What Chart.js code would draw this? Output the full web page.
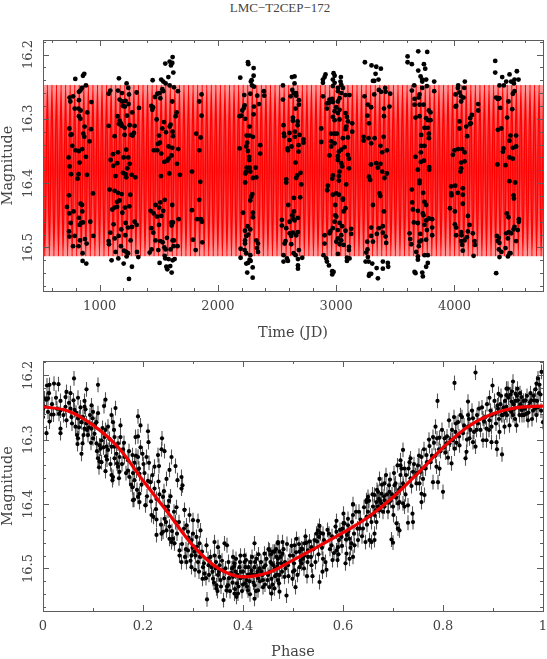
<!DOCTYPE html>
<html>
<head>
<meta charset="utf-8">
<title>LMC-T2CEP-172</title>
<script src="https://cdn.jsdelivr.net/npm/chart.js@4/dist/chart.umd.min.js"></script>
<style>
  html, body { margin: 0; padding: 0; background: #fff; }
  body { position: relative; width: 547px; height: 659px; overflow: hidden; }
  canvas { position: absolute; left: 0; display: block; }
  #title { position: absolute; left: 130px; width: 300px; top: 0; text-align: center; font: 13px "Liberation Serif", serif; color: #444; }
</style>
</head>
<body>
<div id="title">LMC−T2CEP−172</div>
<canvas id="timeChart" width="547" height="340" style="top:0"></canvas>
<canvas id="phaseChart" width="547" height="319" style="top:340px"></canvas>
<script>
// observaciones por temporada: [JD, magnitud]
const season1 = [[794,16.238],[859,16.233],[870,16.230],[884,16.248],[851,16.252],[837,16.256],[825,16.258],[775,16.265],[746,16.267],[752,16.273],[930,16.274],[825,16.271],[789,16.284],[822,16.284],[839,16.287],[896,16.290],[825,16.296],[837,16.300],[744,16.315],[755,16.325],[763,16.324],[873,16.312],[927,16.316],[862,16.323],[870,16.328],[915,16.335],[769,16.342],[797,16.349],[825,16.350],[853,16.347],[738,16.360],[884,16.359],[831,16.368],[746,16.374],[758,16.386],[822,16.386],[814,16.393],[893,16.387],[741,16.419],[944,16.416],[724,16.437],[839,16.432],[851,16.434],[853,16.444],[780,16.444],[744,16.447],[825,16.454],[755,16.462],[859,16.461],[842,16.462],[831,16.465],[921,16.460],[741,16.475],[744,16.483],[789,16.482],[946,16.482],[834,16.489],[876,16.487],[890,16.494],[775,16.498],[822,16.498],[856,16.509],[856,16.521],[887,16.525]];
const season2 = [[1163,16.237],[1076,16.261],[1090,16.256],[1155,16.256],[1228,16.245],[1242,16.252],[1189,16.260],[1248,16.262],[1313,16.259],[1169,16.270],[1192,16.273],[1220,16.272],[1245,16.277],[1197,16.280],[1214,16.281],[1333,16.283],[1276,16.290],[1152,16.296],[1231,16.295],[1076,16.311],[1169,16.303],[1163,16.308],[1180,16.307],[1189,16.311],[1211,16.314],[1254,16.310],[1296,16.311],[1127,16.327],[1211,16.325],[1265,16.325],[1279,16.326],[1290,16.322],[1225,16.348],[1113,16.355],[1093,16.364],[1155,16.352],[1203,16.360],[1242,16.360],[1254,16.370],[1116,16.373],[1149,16.369],[1234,16.377],[1135,16.389],[1197,16.384],[1220,16.386],[1225,16.391],[1271,16.387],[1302,16.391],[1085,16.410],[1127,16.412],[1155,16.415],[1186,16.417],[1259,16.418],[1169,16.427],[1147,16.429],[1127,16.438],[1107,16.441],[1147,16.437],[1214,16.438],[1251,16.436],[1192,16.446],[1118,16.464],[1220,16.462],[1296,16.460],[1313,16.465],[1240,16.469],[1273,16.468],[1183,16.472],[1090,16.477],[1161,16.482],[1127,16.486],[1217,16.481],[1262,16.489],[1076,16.490],[1079,16.495],[1180,16.498],[1135,16.507],[1206,16.505],[1225,16.507],[1240,16.509],[1316,16.507],[1228,16.514],[1158,16.517],[1327,16.515],[1101,16.520],[1203,16.525],[1273,16.530],[1248,16.549]];
const season3 = [[1448,16.240],[1617,16.204],[1555,16.214],[1592,16.211],[1614,16.213],[1603,16.217],[1623,16.228],[1581,16.235],[1521,16.239],[1538,16.242],[1558,16.245],[1592,16.248],[1628,16.251],[1530,16.254],[1538,16.257],[1662,16.257],[1488,16.261],[1507,16.260],[1468,16.266],[1513,16.268],[1614,16.273],[1437,16.280],[1451,16.282],[1445,16.286],[1651,16.290],[1643,16.296],[1482,16.301],[1600,16.309],[1592,16.312],[1544,16.305],[1530,16.315],[1617,16.320],[1502,16.326],[1620,16.327],[1561,16.321],[1510,16.337],[1493,16.339],[1583,16.343],[1614,16.345],[1665,16.347],[1459,16.349],[1488,16.349],[1521,16.354],[1609,16.357],[1583,16.362],[1572,16.365],[1547,16.367],[1654,16.370],[1519,16.389],[1589,16.385],[1679,16.387],[1473,16.434],[1513,16.430],[1550,16.426],[1504,16.438],[1614,16.434],[1431,16.443],[1457,16.447],[1538,16.443],[1485,16.452],[1521,16.451],[1502,16.465],[1668,16.456],[1606,16.461],[1620,16.461],[1609,16.466],[1437,16.470],[1454,16.477],[1473,16.489],[1569,16.485],[1513,16.490],[1533,16.492],[1628,16.489],[1617,16.489],[1547,16.500],[1558,16.503],[1600,16.503],[1626,16.498],[1659,16.498],[1440,16.503],[1423,16.508],[1496,16.504],[1550,16.513],[1555,16.517],[1583,16.518],[1617,16.520],[1634,16.518],[1507,16.524],[1564,16.530],[1572,16.534],[1597,16.529],[1609,16.539]];
const season3b = [[1862,16.262],[1843,16.273],[1862,16.295],[1817,16.323],[1854,16.329],[1843,16.349],[1781,16.382],[1851,16.398],[1843,16.426],[1781,16.442],[1823,16.456],[1857,16.456],[1865,16.460],[1789,16.488],[1868,16.492],[1812,16.504]];
const season4 = [[2189,16.236],[2254,16.212],[2257,16.215],[2302,16.221],[2302,16.233],[2285,16.240],[2279,16.242],[2288,16.248],[2305,16.250],[2274,16.261],[2223,16.263],[2333,16.264],[2389,16.257],[2392,16.264],[2347,16.277],[2305,16.281],[2226,16.279],[2220,16.283],[2206,16.287],[2302,16.293],[2184,16.296],[2198,16.295],[2231,16.300],[2268,16.312],[2243,16.326],[2268,16.326],[2296,16.328],[2248,16.337],[2240,16.343],[2184,16.346],[2358,16.341],[2358,16.354],[2254,16.350],[2265,16.359],[2265,16.364],[2243,16.376],[2268,16.376],[2319,16.376],[2240,16.382],[2274,16.382],[2234,16.385],[2296,16.392],[2325,16.391],[2231,16.399],[2291,16.417],[2282,16.421],[2274,16.427],[2212,16.446],[2296,16.446],[2296,16.453],[2251,16.467],[2229,16.474],[2274,16.472],[2257,16.480],[2240,16.482],[2229,16.489],[2229,16.494],[2325,16.489],[2339,16.494],[2330,16.501],[2339,16.507],[2192,16.502],[2226,16.504],[2240,16.509],[2274,16.512],[2192,16.516],[2268,16.519],[2254,16.524],[2277,16.521],[2240,16.525],[2294,16.531],[2248,16.539],[2294,16.547]];
const season5 = [[2550,16.248],[2626,16.235],[2648,16.234],[2648,16.245],[2629,16.255],[2640,16.260],[2660,16.260],[2615,16.265],[2662,16.264],[2550,16.270],[2685,16.271],[2685,16.278],[2657,16.284],[2634,16.298],[2634,16.303],[2674,16.304],[2555,16.310],[2674,16.310],[2651,16.320],[2558,16.323],[2561,16.327],[2606,16.322],[2651,16.328],[2691,16.325],[2606,16.333],[2724,16.332],[2724,16.337],[2682,16.341],[2623,16.343],[2589,16.346],[2592,16.349],[2682,16.351],[2657,16.368],[2699,16.384],[2671,16.388],[2662,16.392],[2578,16.394],[2578,16.399],[2705,16.402],[2643,16.423],[2696,16.422],[2595,16.434],[2643,16.444],[2629,16.450],[2634,16.455],[2677,16.454],[2606,16.460],[2648,16.458],[2541,16.457],[2541,16.466],[2578,16.470],[2606,16.478],[2634,16.477],[2677,16.476],[2620,16.482],[2662,16.481],[2572,16.490],[2564,16.494],[2620,16.495],[2685,16.504],[2555,16.512],[2640,16.509],[2657,16.512],[2584,16.517],[2713,16.516],[2677,16.518],[2555,16.522],[2592,16.521],[2677,16.528],[2677,16.533]];
const season6 = [[2910,16.231],[2902,16.235],[2888,16.239],[2888,16.244],[2978,16.229],[2987,16.233],[2972,16.239],[3040,16.235],[3037,16.242],[2987,16.244],[3043,16.247],[2972,16.249],[3015,16.252],[3057,16.252],[3015,16.257],[3043,16.260],[3079,16.263],[3113,16.263],[2888,16.265],[3029,16.268],[2967,16.269],[2944,16.270],[2939,16.275],[2972,16.274],[2922,16.276],[3015,16.273],[2922,16.284],[3001,16.282],[3029,16.286],[2987,16.288],[3015,16.291],[3079,16.291],[3091,16.297],[2972,16.297],[2987,16.302],[3029,16.301],[3099,16.304],[3136,16.307],[3085,16.312],[3079,16.316],[2874,16.315],[3136,16.320],[2958,16.323],[2987,16.323],[3006,16.323],[3057,16.330],[3099,16.329],[2874,16.336],[2958,16.335],[2987,16.338],[3071,16.344],[2958,16.343],[3043,16.348],[3023,16.351],[2944,16.357],[3015,16.358],[3099,16.356],[3108,16.362],[3015,16.364],[3043,16.369],[3051,16.374],[3029,16.382],[3108,16.377],[3023,16.389],[2972,16.388],[2967,16.393],[3023,16.396],[3085,16.402],[2930,16.404],[2925,16.411],[2972,16.418],[3001,16.416],[3023,16.418],[3057,16.424],[3057,16.426],[2992,16.434],[3079,16.439],[3063,16.444],[2992,16.450],[3001,16.452],[2987,16.460],[3029,16.462],[3051,16.467],[2902,16.481],[2950,16.475],[2972,16.470],[3015,16.473],[3079,16.474],[3127,16.471],[3127,16.479],[2902,16.494],[2944,16.478],[3043,16.481],[3015,16.486],[3043,16.489],[3001,16.491],[3029,16.495],[3063,16.496],[3108,16.499],[3108,16.504],[3015,16.510],[2893,16.512],[2916,16.517],[2922,16.522],[2939,16.528],[2967,16.537],[2978,16.538],[2967,16.542],[3091,16.516],[3113,16.517],[3091,16.521]];
const season7 = [[3243,16.212],[3299,16.217],[3339,16.219],[3378,16.222],[3333,16.230],[3358,16.239],[3311,16.241],[3322,16.241],[3361,16.255],[3381,16.258],[3415,16.252],[3418,16.258],[3240,16.265],[3322,16.262],[3457,16.261],[3268,16.278],[3296,16.282],[3404,16.284],[3451,16.281],[3265,16.295],[3404,16.296],[3277,16.307],[3232,16.328],[3232,16.334],[3274,16.330],[3325,16.330],[3401,16.328],[3296,16.338],[3375,16.342],[3429,16.349],[3389,16.352],[3294,16.371],[3339,16.369],[3375,16.370],[3353,16.376],[3429,16.385],[3389,16.382],[3409,16.392],[3277,16.390],[3288,16.395],[3367,16.416],[3373,16.420],[3311,16.434],[3404,16.444],[3395,16.467],[3296,16.469],[3361,16.470],[3395,16.477],[3296,16.482],[3344,16.479],[3418,16.483],[3263,16.491],[3311,16.491],[3423,16.493],[3265,16.503],[3254,16.508],[3268,16.515],[3249,16.522],[3274,16.522],[3305,16.525],[3342,16.532],[3395,16.522],[3437,16.524],[3395,16.533],[3440,16.530],[3282,16.541],[3296,16.541],[3277,16.544],[3353,16.548]];
const season8 = [[3604,16.203],[3694,16.195],[3770,16.196],[3604,16.212],[3640,16.215],[3742,16.215],[3753,16.222],[3694,16.225],[3714,16.234],[3728,16.239],[3761,16.239],[3728,16.242],[3829,16.242],[3660,16.248],[3728,16.252],[3640,16.256],[3767,16.249],[3829,16.257],[3705,16.262],[3699,16.267],[3663,16.269],[3663,16.278],[3705,16.278],[3739,16.278],[3784,16.287],[3798,16.290],[3671,16.298],[3705,16.296],[3761,16.299],[3775,16.302],[3798,16.302],[3747,16.314],[3775,16.314],[3719,16.325],[3784,16.323],[3784,16.330],[3719,16.342],[3747,16.342],[3716,16.352],[3671,16.359],[3742,16.365],[3716,16.367],[3691,16.379],[3787,16.375],[3787,16.379],[3705,16.396],[3705,16.400],[3640,16.410],[3736,16.415],[3643,16.430],[3747,16.429],[3761,16.434],[3649,16.441],[3691,16.443],[3733,16.447],[3739,16.450],[3784,16.455],[3812,16.456],[3657,16.461],[3691,16.462],[3761,16.458],[3747,16.465],[3812,16.469],[3711,16.479],[3621,16.478],[3767,16.473],[3812,16.481],[3626,16.487],[3635,16.495],[3705,16.491],[3719,16.489],[3761,16.488],[3699,16.498],[3677,16.507],[3691,16.514],[3747,16.512],[3775,16.512],[3691,16.519],[3775,16.524],[3761,16.530],[3663,16.538],[3671,16.540],[3728,16.539],[3733,16.545]];
const season9 = [[4088,16.242],[4032,16.248],[4029,16.252],[4083,16.252],[4043,16.259],[4009,16.262],[4057,16.265],[4077,16.267],[4057,16.273],[4015,16.280],[4009,16.281],[4201,16.277],[4201,16.287],[4148,16.294],[4133,16.299],[4043,16.304],[4139,16.307],[4100,16.312],[4131,16.308],[4043,16.315],[4108,16.327],[3987,16.356],[4001,16.349],[4032,16.347],[4066,16.347],[4086,16.352],[4086,16.366],[4057,16.368],[4057,16.377],[4052,16.382],[3973,16.405],[4007,16.404],[4071,16.408],[4029,16.415],[4071,16.418],[3973,16.416],[3976,16.419],[4071,16.432],[3962,16.439],[4004,16.444],[4114,16.451],[4128,16.465],[4004,16.464],[4015,16.469],[4057,16.476],[4015,16.481],[4114,16.475],[4156,16.478],[4105,16.484],[4060,16.481],[4057,16.490],[4086,16.489],[4066,16.496],[4170,16.490],[4173,16.496],[4071,16.505],[4162,16.513]];
const season10 = [[4345,16.210],[4345,16.228],[4404,16.235],[4466,16.231],[4528,16.226],[4480,16.242],[4438,16.242],[4508,16.239],[4542,16.239],[4381,16.248],[4418,16.248],[4503,16.245],[4508,16.257],[4494,16.261],[4353,16.267],[4381,16.268],[4367,16.269],[4457,16.273],[4387,16.283],[4489,16.285],[4446,16.298],[4396,16.315],[4367,16.317],[4466,16.334],[4522,16.326],[4474,16.326],[4415,16.346],[4410,16.351],[4522,16.343],[4494,16.345],[4466,16.360],[4494,16.362],[4364,16.371],[4432,16.372],[4466,16.397],[4514,16.399],[4500,16.419],[4503,16.424],[4443,16.447],[4457,16.453],[4545,16.456],[4545,16.460],[4508,16.468],[4536,16.473],[4500,16.472],[4438,16.478],[4460,16.476],[4480,16.478],[4452,16.486],[4522,16.490],[4359,16.482],[4376,16.485],[4381,16.493],[4367,16.490],[4376,16.503],[4398,16.507],[4432,16.501],[4466,16.509],[4474,16.509],[4452,16.514],[4381,16.515],[4353,16.540]];

// curva ajustada en el panel de tiempo: maximos y minimos
const wavePeakJD = [520,558.5,597,635.5,674,712.5,751,789.5,828,866.5,905,943.5,982,1020.5,1059,1097.5,1136,1174.5,1213,1251.5,1290,1328.5,1367,1405.5,1444,1482.5,1521,1559.5,1598,1636.5,1675,1713.5,1752,1790.5,1829,1867.5,1906,1944.5,1983,2021.5,2060,2098.5,2137,2175.5,2214,2252.5,2291,2329.5,2368,2406.5,2445,2483.5,2522,2560.5,2599,2637.5,2676,2714.5,2753,2791.5,2830,2868.5,2907,2945.5,2984,3022.5,3061,3099.5,3138,3176.5,3215,3253.5,3292,3330.5,3369,3407.5,3446,3484.5,3523,3561.5,3600,3638.5,3677,3715.5,3754,3792.5,3831,3869.5,3908,3946.5,3985,4023.5,4062,4100.5,4139,4177.5,4216,4254.5,4293,4331.5,4370,4408.5,4447,4485.5,4524,4562.5,4601,4639.5,4678,4716.5,4755];
const waveTroughJD = [536,574.5,613,651.5,690,728.5,767,805.5,844,882.5,921,959.5,998,1036.5,1075,1113.5,1152,1190.5,1229,1267.5,1306,1344.5,1383,1421.5,1460,1498.5,1537,1575.5,1614,1652.5,1691,1729.5,1768,1806.5,1845,1883.5,1922,1960.5,1999,2037.5,2076,2114.5,2153,2191.5,2230,2268.5,2307,2345.5,2384,2422.5,2461,2499.5,2538,2576.5,2615,2653.5,2692,2730.5,2769,2807.5,2846,2884.5,2923,2961.5,3000,3038.5,3077,3115.5,3154,3192.5,3231,3269.5,3308,3346.5,3385,3423.5,3462,3500.5,3539,3577.5,3616,3654.5,3693,3731.5,3770,3808.5,3847,3885.5,3924,3962.5,4001,4039.5,4078,4116.5,4155,4193.5,4232,4270.5,4309,4347.5,4386,4424.5,4463,4501.5,4540,4578.5,4617,4655.5,4694,4732.5];
const wavePeakMag = 16.2475;
const waveTroughMag = 16.5135;

// curva de fase (ajuste)
const fitPhase = [0,0.05,0.1,0.15,0.2,0.25,0.3,0.35,0.4,0.45,0.5,0.55,0.6,0.65,0.7,0.75,0.8,0.85,0.9,0.95,1];
const fitMag = [16.249,16.2555,16.2775,16.3115,16.3635,16.4135,16.4645,16.4995,16.513,16.5065,16.487,16.466,16.4445,16.4205,16.3895,16.352,16.3125,16.28,16.26,16.25,16.248];

// puntos en fase: [fase, magnitud]
const phaseA = [[0,16.252],[0,16.265],[.003,16.236],[.007,16.238],[.010,16.236],[.008,16.216],[.013,16.215],[.022,16.213],[.031,16.214],[.062,16.205],[.110,16.215],[.007,16.290],[.013,16.272],[.017,16.261],[.021,16.261],[.003,16.249],[.010,16.257],[.035,16.240],[.032,16.260],[.035,16.255],[.035,16.283],[.035,16.290],[.045,16.234],[.047,16.226],[.055,16.228],[.045,16.249],[.047,16.270],[.057,16.265],[.055,16.252],[.063,16.254],[.070,16.235],[.061,16.239],[.083,16.240],[.087,16.222],[.083,16.249],[.085,16.253],[.097,16.247],[.100,16.257],[.099,16.267],[.110,16.259],[.107,16.273],[.122,16.248],[.125,16.238],[.145,16.251],[.137,16.262],[.140,16.273],[.130,16.280],[.125,16.285],[.155,16.278],[.155,16.296],[.065,16.280],[.070,16.267],[.073,16.265],[.077,16.273],[.068,16.293],[.070,16.298],[.079,16.306],[.077,16.322],[.069,16.307],[.083,16.283],[.088,16.285],[.092,16.281],[.090,16.293],[.100,16.298],[.107,16.306],[.113,16.309],[.115,16.314],[.110,16.329],[.113,16.334],[.117,16.335],[.112,16.343],[.127,16.311],[.130,16.316],[.137,16.311],[.143,16.311],[.147,16.322],[.143,16.329],[.128,16.331],[.125,16.349],[.137,16.355],[.140,16.358],[.139,16.363],[.150,16.342],[.153,16.327],[.160,16.315],[.153,16.350],[.170,16.348],[.173,16.358],[.179,16.324],[.183,16.336]];
const phaseB = [[.190,16.264],[.195,16.278],[.185,16.296],[.190,16.295],[.210,16.287],[.211,16.304],[.195,16.312],[.199,16.322],[.190,16.327],[.207,16.327],[.201,16.338],[.180,16.352],[.183,16.363],[.179,16.374],[.182,16.393],[.193,16.384],[.190,16.389],[.205,16.402],[.210,16.364],[.215,16.366],[.223,16.342],[.232,16.341],[.230,16.324],[.238,16.298],[.237,16.315],[.243,16.318],[.257,16.327],[.253,16.347],[.265,16.341],[.247,16.361],[.269,16.363],[.277,16.358],[.279,16.371],[.277,16.376],[.223,16.376],[.233,16.385],[.240,16.389],[.255,16.388],[.250,16.404],[.243,16.404],[.283,16.409],[.227,16.392],[.080,16.265],[.087,16.275],[.097,16.283],[.103,16.291],[.117,16.301],[.123,16.296],[.143,16.296],[.150,16.306],[.163,16.327],[.170,16.332],[.187,16.348],[.193,16.353]];
const phaseC = [[.180,16.394],[.193,16.397],[.205,16.402],[.217,16.417],[.221,16.420],[.227,16.424],[.267,16.405],[.283,16.409],[.293,16.417],[.300,16.425],[.310,16.426],[.250,16.410],[.243,16.423],[.240,16.443],[.247,16.441],[.253,16.435],[.265,16.428],[.227,16.448],[.237,16.446],[.253,16.454],[.260,16.454],[.263,16.461],[.257,16.459],[.287,16.433],[.290,16.443],[.300,16.446],[.315,16.441],[.297,16.456],[.307,16.451],[.273,16.472],[.273,16.480],[.277,16.490],[.284,16.482],[.290,16.472],[.297,16.480],[.287,16.490],[.297,16.498],[.303,16.474],[.310,16.490],[.313,16.461],[.327,16.464],[.320,16.498],[.323,16.508],[.319,16.516],[.330,16.485],[.343,16.459],[.350,16.467],[.343,16.480],[.353,16.482],[.363,16.461],[.368,16.464],[.353,16.495],[.360,16.503],[.337,16.498],[.340,16.516],[.347,16.526],[.347,16.531],[.355,16.518],[.328,16.548],[.361,16.549],[.370,16.526],[.367,16.534]];
const phaseD = [[.380,16.482],[.383,16.492],[.393,16.498],[.403,16.480],[.403,16.490],[.400,16.505],[.380,16.513],[.388,16.523],[.383,16.539],[.387,16.544],[.390,16.539],[.407,16.518],[.410,16.534],[.423,16.461],[.427,16.485],[.423,16.498],[.427,16.510],[.443,16.477],[.423,16.526],[.423,16.547],[.430,16.534],[.440,16.529],[.410,16.510],[.417,16.503],[.433,16.500],[.440,16.518],[.453,16.529],[.460,16.474],[.470,16.461],[.470,16.485],[.463,16.500],[.457,16.539],[.470,16.518],[.467,16.510],[.385,16.505],[.395,16.515],[.400,16.525],[.413,16.520],[.420,16.510],[.415,16.490],[.405,16.498],[.430,16.515],[.437,16.505],[.445,16.495],[.450,16.510],[.455,16.490],[.395,16.480],[.378,16.500],[.372,16.515],[.350,16.510],[.345,16.500],[.332,16.510],[.312,16.505],[.305,16.480]];
const phaseE = [[.457,16.492],[.453,16.472],[.457,16.516],[.463,16.531],[.473,16.510],[.473,16.536],[.487,16.542],[.485,16.500],[.483,16.513],[.470,16.459],[.479,16.459],[.463,16.474],[.473,16.474],[.479,16.477],[.470,16.492],[.477,16.492],[.467,16.482],[.490,16.495],[.500,16.480],[.507,16.454],[.503,16.464],[.499,16.516],[.500,16.505],[.505,16.529],[.503,16.503],[.513,16.474],[.517,16.469],[.523,16.461],[.527,16.460],[.520,16.485],[.517,16.492],[.513,16.498],[.523,16.480],[.530,16.472],[.537,16.467],[.543,16.456],[.547,16.446],[.550,16.441],[.553,16.434],[.552,16.451],[.560,16.446],[.572,16.446],[.530,16.482],[.537,16.495],[.528,16.512],[.539,16.512],[.553,16.521],[.559,16.505],[.567,16.502],[.560,16.485],[.579,16.487],[.589,16.487],[.587,16.472],[.577,16.464],[.587,16.426],[.587,16.443],[.590,16.467],[.592,16.456],[.597,16.451],[.601,16.415],[.601,16.430],[.610,16.423],[.599,16.438],[.610,16.433],[.620,16.417],[.632,16.412],[.608,16.448],[.613,16.454],[.617,16.461],[.623,16.464],[.607,16.477],[.620,16.482],[.605,16.492],[.613,16.485],[.630,16.456],[.633,16.438],[.640,16.438],[.645,16.459],[.653,16.456],[.657,16.459],[.663,16.456],[.663,16.446]];
const phaseF = [[.647,16.420],[.657,16.428],[.667,16.428],[.650,16.412],[.663,16.417],[.673,16.410],[.680,16.412],[.647,16.397],[.620,16.400],[.701,16.417],[.707,16.430],[.710,16.438],[.713,16.441],[.697,16.455],[.700,16.460],[.730,16.429],[.740,16.428],[.739,16.415],[.730,16.402],[.720,16.399],[.710,16.399],[.700,16.404],[.690,16.412],[.683,16.404],[.757,16.397],[.667,16.397],[.660,16.404],[.670,16.404],[.620,16.401],[.647,16.394],[.650,16.389],[.673,16.361],[.663,16.386],[.670,16.381],[.677,16.384],[.683,16.368],[.692,16.371],[.703,16.371],[.705,16.368],[.693,16.381],[.683,16.394],[.677,16.399],[.713,16.397],[.723,16.404],[.720,16.368],[.715,16.355],[.715,16.340],[.720,16.316],[.715,16.332],[.723,16.345],[.733,16.335],[.735,16.329],[.740,16.350],[.750,16.340],[.757,16.327],[.767,16.324],[.773,16.310],[.780,16.296],[.785,16.280],[.793,16.297],[.803,16.298],[.807,16.306],[.810,16.328],[.817,16.337],[.800,16.381],[.780,16.366],[.790,16.366],[.757,16.384],[.763,16.386],[.747,16.368],[.760,16.361],[.753,16.368],[.787,16.342],[.793,16.345],[.672,16.392],[.688,16.385],[.695,16.395],[.707,16.384],[.715,16.375],[.725,16.385],[.735,16.360],[.745,16.355],[.755,16.350],[.765,16.345],[.775,16.335],[.785,16.325],[.795,16.318]];
const phaseG = [[.789,16.240],[.823,16.212],[.865,16.196],[.850,16.241],[.822,16.265],[.830,16.273],[.835,16.262],[.825,16.288],[.850,16.262],[.860,16.267],[.850,16.280],[.867,16.285],[.860,16.304],[.853,16.298],[.865,16.311],[.847,16.319],[.845,16.329],[.820,16.301],[.833,16.309],[.823,16.314],[.813,16.306],[.880,16.301],[.887,16.301],[.897,16.304],[.908,16.315],[.918,16.323],[.907,16.304],[.913,16.288],[.887,16.283],[.893,16.270],[.899,16.216],[.893,16.235],[.911,16.229],[.909,16.247],[.872,16.252],[.880,16.267],[.897,16.280],[.917,16.262],[.927,16.221],[.930,16.221],[.940,16.210],[.949,16.221],[.957,16.234],[.945,16.229],[.927,16.231],[.937,16.241],[.950,16.239],[.965,16.239],[.977,16.239],[.983,16.239],[.987,16.213],[.990,16.205],[.997,16.195],[1,16.273],[.987,16.262],[.970,16.270],[.967,16.260],[.953,16.262],[.947,16.278],[.933,16.278],[.923,16.280],[.943,16.252],[.957,16.254],[.937,16.257],[.927,16.249],[.920,16.262],[.960,16.250],[.972,16.248],[.980,16.255],[.990,16.250],[.995,16.230],[.975,16.228],[.955,16.245],[.935,16.230],[.945,16.240],[.962,16.262],[.985,16.222],[.993,16.215],[.940,16.262],[.925,16.258],[.915,16.245],[.805,16.320],[.815,16.300],[.827,16.305],[.840,16.290],[.855,16.285],[.870,16.275],[.885,16.265],[.895,16.255],[.905,16.260]];
const phaseH = [[.012,16.228],[.018,16.245],[.026,16.235],[.028,16.252],[.041,16.262],[.052,16.243],[.058,16.275],[.066,16.258],[.072,16.281],[.075,16.250],[.081,16.293],[.094,16.262],[.096,16.305],[.104,16.276],[.108,16.318],[.119,16.282],[.121,16.312],[.126,16.326],[.133,16.299],[.135,16.338],[.142,16.285],[.148,16.337],[.152,16.360],[.158,16.338],[.162,16.305],[.166,16.352],[.172,16.318],[.176,16.370],[.186,16.325],[.188,16.378],[.192,16.345],[.197,16.370],[.203,16.352],[.208,16.388],[.212,16.336],[.216,16.396],[.219,16.355],[.226,16.408],[.231,16.365],[.236,16.432],[.242,16.380],[.246,16.428],[.252,16.395],[.258,16.442],[.262,16.412],[.268,16.446],[.272,16.428],[.278,16.462],[.282,16.438],[.286,16.470],[.291,16.452],[.295,16.488],[.299,16.468],[.304,16.502],[.308,16.466],[.314,16.482],[.318,16.474],[.322,16.492],[.326,16.515],[.331,16.495],[.335,16.482],[.339,16.505],[.342,16.522],[.346,16.490],[.349,16.535],[.352,16.505],[.356,16.528],[.358,16.488],[.362,16.515],[.365,16.500],[.368,16.528],[.371,16.490],[.374,16.535],[.376,16.507],[.379,16.522],[.382,16.497],[.384,16.532],[.386,16.485],[.389,16.510],[.391,16.528],[.394,16.490],[.396,16.505],[.398,16.535],[.401,16.513],[.404,16.523],[.406,16.487],[.408,16.528],[.411,16.498],[.414,16.540],[.416,16.508],[.418,16.482],[.421,16.522],[.424,16.490],[.426,16.535],[.429,16.505],[.431,16.478],[.434,16.520],[.436,16.490],[.439,16.510],[.442,16.498],[.444,16.525],[.447,16.485],[.449,16.518],[.451,16.470],[.454,16.505],[.456,16.478],[.459,16.525],[.461,16.495],[.464,16.512],[.466,16.470],[.469,16.497],[.472,16.523]];
const phaseI = [[.475,16.482],[.478,16.505],[.481,16.470],[.484,16.490],[.488,16.462],[.491,16.512],[.494,16.480],[.497,16.465],[.502,16.492],[.506,16.475],[.509,16.510],[.512,16.462],[.515,16.488],[.519,16.470],[.522,16.500],[.525,16.450],[.529,16.490],[.533,16.458],[.536,16.482],[.541,16.470],[.545,16.490],[.548,16.458],[.551,16.478],[.555,16.445],[.558,16.468],[.562,16.456],[.565,16.490],[.569,16.440],[.574,16.470],[.578,16.450],[.582,16.476],[.585,16.435],[.591,16.478],[.594,16.440],[.598,16.465],[.603,16.430],[.606,16.455],[.611,16.442],[.615,16.468],[.618,16.428],[.622,16.446],[.626,16.412],[.629,16.438],[.635,16.424],[.638,16.450],[.642,16.405],[.648,16.432],[.652,16.395],[.655,16.418],[.659,16.385],[.665,16.410],[.668,16.378],[.674,16.395],[.678,16.370],[.682,16.388],[.686,16.355],[.691,16.398],[.694,16.362],[.698,16.385],[.702,16.352],[.706,16.390],[.709,16.340],[.712,16.378],[.717,16.345],[.721,16.372],[.726,16.355],[.731,16.345],[.737,16.372],[.742,16.338],[.748,16.352],[.752,16.325],[.758,16.345],[.762,16.315],[.768,16.335],[.772,16.300],[.778,16.325],[.782,16.305],[.788,16.298],[.792,16.315],[.798,16.285],[.802,16.312],[.808,16.295],[.812,16.270],[.818,16.285],[.826,16.275],[.832,16.295],[.838,16.265],[.842,16.278],[.848,16.300],[.852,16.268],[.858,16.255],[.862,16.288],[.868,16.262],[.875,16.285],[.878,16.250],[.882,16.272],[.888,16.245],[.892,16.285],[.898,16.262],[.903,16.240],[.906,16.275],[.910,16.252],[.912,16.268],[.916,16.232],[.921,16.250],[.924,16.240],[.928,16.262],[.931,16.235],[.934,16.255],[.938,16.225],[.941,16.245],[.944,16.268],[.948,16.232],[.951,16.250],[.954,16.228],[.958,16.262],[.961,16.240],[.964,16.252],[.968,16.232],[.971,16.258],[.974,16.242],[.978,16.268],[.981,16.232],[.984,16.252],[.988,16.240],[.992,16.228],[.996,16.255]];
const phaseErr = 0.0115;

// etiquetas y marcas de los ejes
const magMajor = [16.2, 16.3, 16.4, 16.5];
const magMinor = [16.18, 16.22, 16.24, 16.26, 16.28, 16.32, 16.34, 16.36, 16.38, 16.42, 16.44, 16.46, 16.48, 16.52, 16.54, 16.56];
const jdMajor = [1000, 2000, 3000, 4000];
const jdMinor = [600, 800, 1200, 1400, 1600, 1800, 2200, 2400, 2600, 2800, 3200, 3400, 3600, 3800, 4200, 4400, 4600];
const phaseMajor = [0, 0.2, 0.4, 0.6, 0.8, 1];
const phaseMinor = [0.1, 0.3, 0.5, 0.7, 0.9];

const INK = '#444';
const FRAME = '#5c5c5c';
const FONT = { family: '"DejaVu Serif", serif', size: 13 };
const TITLE_FONT = { family: '"DejaVu Serif", serif', size: 14.5 };

// PGPLOT style: marcas hacia adentro en los cuatro lados y numeros girados en Y
const frameTicks = {
    id: 'frameTicks',
    afterDraw(chart, args, opts) {
        const { ctx, chartArea: a, scales } = chart;
        ctx.save();
        ctx.strokeStyle = FRAME;
        ctx.lineWidth = 1;
        ctx.strokeRect(a.left + 0.5, a.top + 0.5, a.right - a.left, a.bottom - a.top);
        ctx.beginPath();
        const vert = (vals, len) => vals.forEach(v => {
            const x = Math.round(scales.x.getPixelForValue(v)) + 0.5;
            ctx.moveTo(x, a.bottom); ctx.lineTo(x, a.bottom - len);
            ctx.moveTo(x, a.top); ctx.lineTo(x, a.top + len);
        });
        const horiz = (vals, len) => vals.forEach(v => {
            const y = Math.round(scales.y.getPixelForValue(v)) + 0.5;
            ctx.moveTo(a.left, y); ctx.lineTo(a.left + len, y);
            ctx.moveTo(a.right, y); ctx.lineTo(a.right - len, y);
        });
        vert(opts.xMajor, 6);
        vert(opts.xMinor, 3);
        horiz(magMajor, 6);
        horiz(magMinor, 3);
        ctx.stroke();

        ctx.fillStyle = INK;
        ctx.font = FONT.size + 'px ' + FONT.family;
        ctx.textAlign = 'center';
        ctx.textBaseline = 'middle';
        magMajor.forEach(v => {
            ctx.save();
            ctx.translate(29, scales.y.getPixelForValue(v));
            ctx.rotate(-Math.PI / 2);
            ctx.fillText(v.toFixed(1), 0, 0);
            ctx.restore();
        });
        ctx.restore();
    }
};

function panelOptions(cfg) {
    return {
        responsive: false,
        animation: false,
        layout: { padding: { left: 0, right: 3, top: cfg.top, bottom: 0 } },
        plugins: {
            legend: { display: false },
            tooltip: { enabled: false },
            frameTicks: { xMajor: cfg.xMajor, xMinor: cfg.xMinor }
        },
        scales: {
            x: {
                type: 'linear',
                min: cfg.xMin,
                max: cfg.xMax,
                grid: { display: false, drawTicks: false },
                border: { display: false },
                afterBuildTicks: s => { s.ticks = cfg.xMajor.map(v => ({ value: v })); },
                afterFit: s => { s.height = cfg.xHeight; s.paddingLeft = 0; s.paddingRight = 0; },
                ticks: {
                    color: INK,
                    font: FONT,
                    padding: 8,
                    maxRotation: 0,
                    autoSkip: false,
                    callback: v => String(v)
                },
                title: { display: true, text: cfg.xTitle, color: INK, font: TITLE_FONT, padding: { top: 0, bottom: -2 } }
            },
            y: {
                type: 'linear',
                reverse: true,
                min: cfg.yMin,
                max: cfg.yMax,
                grid: { display: false, drawTicks: false },
                border: { display: false },
                ticks: { display: false },
                afterFit: s => { s.width = 43; },
                title: { display: true, text: 'Magnitude', color: INK, font: TITLE_FONT, padding: { top: 0, bottom: 0 } }
            }
        }
    };
}

// tono de fondo de la banda roja, mas palido hacia los extremos
function bandFill(context) {
    const { chart } = context;
    if (!chart.chartArea) return '#ff4040';
    const y = chart.scales.y;
    const g = chart.ctx.createLinearGradient(0, y.getPixelForValue(wavePeakMag), 0, y.getPixelForValue(waveTroughMag));
    g.addColorStop(0, '#ff9a9a');
    g.addColorStop(0.22, '#ff5a5a');
    g.addColorStop(0.5, '#ff2626');
    g.addColorStop(0.78, '#ff5a5a');
    g.addColorStop(1, '#ff9a9a');
    return g;
}

const seasons = [season1, season2, season3, season3b, season4, season5, season6, season7, season8, season9, season10];
const timePoints = seasons.flat().map(p => ({ x: p[0], y: p[1] }));
const waveLine = [];
wavePeakJD.forEach((t, i) => {
    waveLine.push({ x: t, y: wavePeakMag });
    if (i < waveTroughJD.length) waveLine.push({ x: waveTroughJD[i], y: waveTroughMag });
});
const bandEdges = [wavePeakJD[0], wavePeakJD[wavePeakJD.length - 1]];

new Chart(document.getElementById('timeChart'), {
    type: 'scatter',
    data: {
        datasets: [
            { type: 'scatter', data: timePoints, order: 1, pointRadius: 2.4, pointBackgroundColor: '#000', pointBorderWidth: 0 },
            { type: 'line', data: waveLine, order: 2, borderColor: '#ff0000', borderWidth: 1.3, pointRadius: 0, cubicInterpolationMode: 'monotone' },
            { type: 'line', data: bandEdges.map(t => ({ x: t, y: wavePeakMag })), order: 3, borderWidth: 0, pointRadius: 0, fill: '+1', backgroundColor: bandFill },
            { type: 'line', data: bandEdges.map(t => ({ x: t, y: waveTroughMag })), order: 3, borderWidth: 0, pointRadius: 0 }
        ]
    },
    options: panelOptions({
        top: 40, xHeight: 49, xMin: 521, xMax: 4749, yMin: 16.1774, yMax: 16.5677,
        xMajor: jdMajor, xMinor: jdMinor, xTitle: 'Time (JD)'
    }),
    plugins: [frameTicks]
});

const phasePoints = [phaseA, phaseB, phaseC, phaseD, phaseE, phaseF, phaseG, phaseH, phaseI].flat();
const errorBars = [];
phasePoints.forEach(p => {
    errorBars.push({ x: p[0], y: p[1] - phaseErr }, { x: p[0], y: p[1] + phaseErr }, { x: p[0], y: null });
});

new Chart(document.getElementById('phaseChart'), {
    type: 'scatter',
    data: {
        datasets: [
            { type: 'line', data: fitPhase.map((p, i) => ({ x: p, y: fitMag[i] })), order: 0, borderColor: '#f00000', borderWidth: 3.2, pointRadius: 0, cubicInterpolationMode: 'monotone' },
            { type: 'scatter', data: phasePoints.map(p => ({ x: p[0], y: p[1] })), order: 1, pointRadius: 2.1, pointBackgroundColor: '#000', pointBorderWidth: 0 },
            { type: 'line', data: errorBars, order: 2, borderColor: '#555', borderWidth: 1.1, pointRadius: 0, spanGaps: false }
        ]
    },
    options: panelOptions({
        top: 21, xHeight: 48, xMin: 0, xMax: 1, yMin: 16.178, yMax: 16.566,
        xMajor: phaseMajor, xMinor: phaseMinor, xTitle: 'Phase'
    }),
    plugins: [frameTicks]
});
</script>
</body>
</html>
